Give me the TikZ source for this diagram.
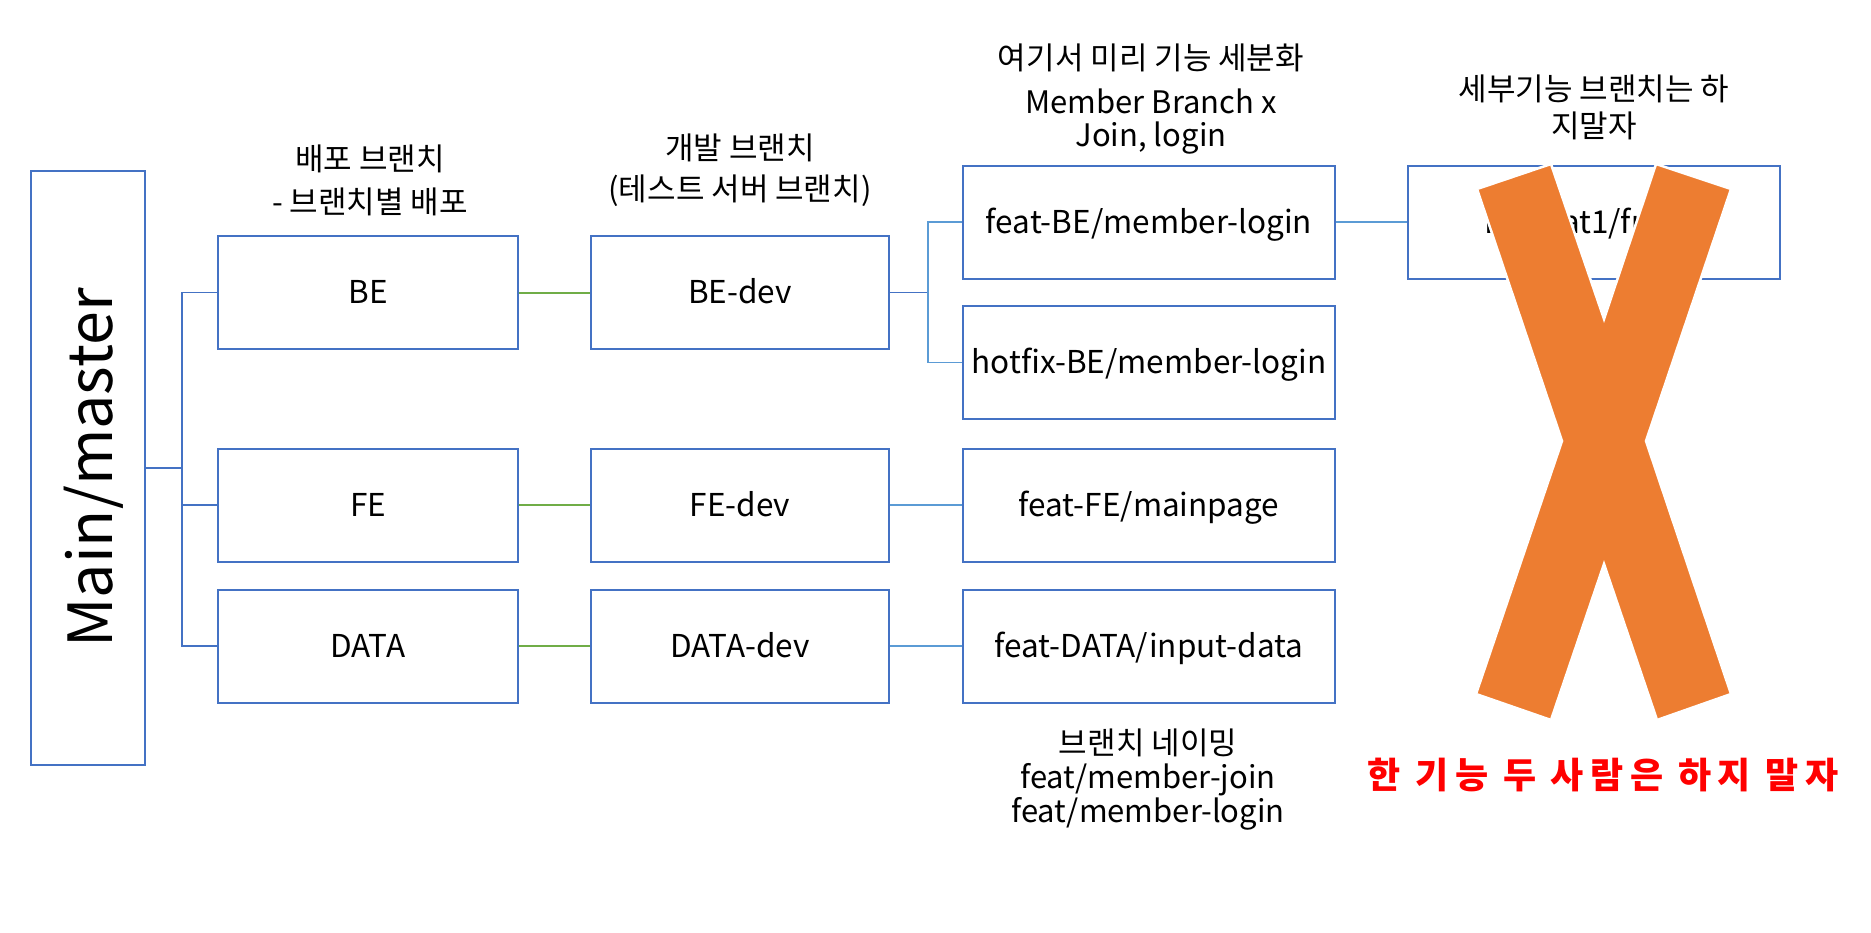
\documentclass[tikz,border=0pt]{standalone}
\usepackage{fontspec}
\setmainfont{Noto Sans CJK KR}
\usetikzlibrary{calc}
\definecolor{boxblue}{HTML}{4472C4}
\definecolor{lineblue}{HTML}{5B9BD5}
\definecolor{linegreen}{HTML}{70AD47}
\definecolor{xorange}{HTML}{ED7D31}
\definecolor{xred}{HTML}{FF0000}
\tikzset{
  brbox/.style={draw=boxblue, line width=2pt, fill=white, inner sep=0pt, text height=26pt, text depth=4pt, font=\fontsize{31.5}{36}\selectfont},
  sidebox/.style={brbox, minimum width=300pt, minimum height=113pt},
  devbox/.style={brbox, minimum width=298pt, minimum height=113pt},
  featbox/.style={brbox, minimum width=372pt, minimum height=113pt},
  mconn/.style={draw=boxblue, line width=1.8pt},
  gconn/.style={draw=linegreen, line width=2pt},
  lconn/.style={draw=lineblue, line width=1.8pt},
  note/.style={align=center, inner sep=0pt, font=\fontsize{31}{35}\selectfont},
}
\begin{document}
\begin{tikzpicture}[x=1pt, y=-1pt]
\useasboundingbox (0,0) rectangle (1871,932);
% main
\node[brbox, minimum width=114pt, minimum height=594pt] (main) at (88,468) {};
\node[rotate=90, inner sep=0pt, font=\fontsize{61}{72}\selectfont] (maintxt) at (94,468) {Main/master};
% deploy branches
\node[sidebox] (be) at (368,292.5) {BE};
\node[sidebox] (fe) at (368,505) {FE};
\node[sidebox] (data) at (368,646) {DATA};
% dev branches
\node[devbox] (bedev) at (740,292.5) {BE-dev};
\node[devbox] (fedev) at (740,505) {FE-dev};
\node[devbox] (datadev) at (740,646) {DATA-dev};
% feature branches
\node[featbox] (featbe) at (1149,222) {feat-BE/member-login};
\node[featbox] (hotfix) at (1149,362.5) {hotfix-BE/member-login};
\node[featbox] (featfe) at (1149,505) {feat-FE/mainpage};
\node[featbox] (featdata) at (1149,646) {feat-DATA/input-data};
\node[featbox] (sub) at (1594,222) {BE-feat1/func1};
% connectors
\coordinate (mj) at ($(main.east)+(36,0)$);
\draw[mconn] (main.east) -- (mj);
\draw[mconn] (be.west) -| (mj);
\draw[mconn] (fe.west) -| (mj);
\draw[mconn] (data.west) -| (mj);
\draw[gconn] (be.east) -- (bedev.west);
\draw[gconn] (fe.east) -- (fedev.west);
\draw[gconn] (data.east) -- (datadev.west);
\coordinate (dj) at ($(bedev.east)+(38,0)$);
\draw[mconn] (bedev.east) -- (dj);
\draw[lconn] (featbe.west) -| (dj);
\draw[lconn] (hotfix.west) -| (dj);
\draw[lconn] (fedev.east) -- (featfe.west);
\draw[lconn] (datadev.east) -- (featdata.west);
\draw[lconn] (featbe.east) -- (sub.west);
% headings
\node[note, font=\fontsize{31}{43}\selectfont] (h1) at (370,180) {배포 브랜치\\- 브랜치별 배포};
\node[note, font=\fontsize{31}{41}\selectfont] (h2) at (740,170) {개발 브랜치\\(테스트 서버 브랜치)};
\node[note] (h3a) at (1151,58) {여기서 미리 기능 세분화};
\node[note, font=\fontsize{31}{33}\selectfont] (h3b) at (1151,122) {Member Branch x\\Join, login};
\node[note, font=\fontsize{31}{37}\selectfont] (h4) at (1594,107) {세부기능 브랜치는 하\\지말자};
\node[note, font=\fontsize{31}{34}\selectfont] (h5) at (1148,780) {브랜치 네이밍\\feat/member-join\\feat/member-login};
% big X
\path[fill=xorange, draw=white, line width=2.5pt, line join=miter]
  (1477,189) -- (1551,164) -- (1604,319) -- (1656,164) -- (1731,189) -- (1646,441)
  -- (1731,694) -- (1657,720) -- (1604,564) -- (1551,720) -- (1476,694) -- (1562,441) -- cycle;
\node[inner sep=0pt, text=xred, font=\fontsize{36}{42}\selectfont\bfseries\addfontfeature{LetterSpace=18}] (warn) at (1603,775) {한 기능 두 사람은 하지 말자};
\end{tikzpicture}
\end{document}
